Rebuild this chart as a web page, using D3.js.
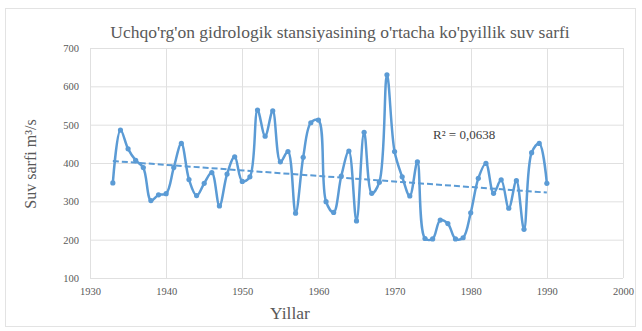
<!DOCTYPE html>
<html>
<head>
<meta charset="utf-8">
<script src="https://cdn.jsdelivr.net/npm/d3@7"></script>
<style>
  html, body { margin: 0; padding: 0; background: #fff; }
  svg { display: block; }
</style>
</head>
<body>
<svg id="chart" width="642" height="331"></svg>
<script>
// Annual mean discharge, m³/s
const years = d3.range(1933, 1991);
const discharge = [
  348, 486, 437, 407, 388, 302, 317, 320, 388, 451,
  357, 315, 347, 375, 288, 371, 416, 352, 364, 538,
  470, 536, 403, 430, 269, 415, 505, 512, 299, 271,
  366, 431, 249, 480, 321, 350, 630, 430, 364, 314,
  403, 203, 202, 251, 242, 202, 205, 270, 360, 399,
  321, 356, 282, 354, 227, 427, 451, 347
];
const xTicks = [1930, 1940, 1950, 1960, 1970, 1980, 1990, 2000];
const yTicks = [100, 200, 300, 400, 500, 600, 700];
const titleText = "Uchqo'rg'on gidrologik stansiyasining o'rtacha ko'pyillik suv sarfi";
const xTitle = "Yillar";
const yTitle = "Suv sarfi m³/s";
const r2Label = "R² = 0,0638";

const data = years.map((y, i) => ({ year: y, value: discharge[i] }));

const svg = d3.select("#chart");
const margin = { left: 90, right: 19, top: 48, bottom: 53 };
const W = 642, H = 331;
const x = d3.scaleLinear().domain([1930, 2000]).range([margin.left, W - margin.right]);
const y = d3.scaleLinear().domain([100, 700]).range([H - margin.bottom, margin.top]);

const font = "'Liberation Serif', 'Times New Roman', serif";
const blue = "#5b9bd5";
const textGrey = "#595959";

// chart frame
svg.append("rect")
  .attr("x", 5.5).attr("y", 8.5).attr("width", 630).attr("height", 318)
  .attr("fill", "#fff").attr("stroke", "#e3e3e3");

// gridlines
svg.append("g").selectAll("line").data(yTicks).join("line")
  .attr("x1", x(1930)).attr("x2", x(2000))
  .attr("y1", d => y(d) + 0.5).attr("y2", d => y(d) + 0.5)
  .attr("stroke", "#e0e0e0");
svg.append("g").selectAll("line").data(xTicks).join("line")
  .attr("y1", y(100)).attr("y2", y(700))
  .attr("x1", d => Math.round(x(d)) + 0.5).attr("x2", d => Math.round(x(d)) + 0.5)
  .attr("stroke", "#e0e0e0");

// axes (labels only)
const xAxis = svg.append("g")
  .attr("transform", `translate(0,${y(100)})`)
  .call(d3.axisBottom(x).tickValues(xTicks).tickFormat(d3.format("d")).tickSize(0).tickPadding(10));
const yAxis = svg.append("g")
  .attr("transform", `translate(${x(1930)},0)`)
  .call(d3.axisLeft(y).tickValues(yTicks).tickSize(0).tickPadding(11));
[xAxis, yAxis].forEach(g => {
  g.select(".domain").remove();
  g.selectAll("text").attr("font-family", font).attr("font-size", 10.5).attr("fill", textGrey);
});

// linear trend (least squares)
const n = data.length;
const mx = d3.mean(data, d => d.year), my = d3.mean(data, d => d.value);
const sxy = d3.sum(data, d => (d.year - mx) * (d.value - my));
const sxx = d3.sum(data, d => (d.year - mx) ** 2);
const slope = sxy / sxx, icpt = my - slope * mx;
const trend = [years[0], years[n - 1]].map(t => ({ year: t, value: icpt + slope * t }));

svg.append("path")
  .datum(trend)
  .attr("fill", "none")
  .attr("stroke", blue)
  .attr("stroke-width", 2)
  .attr("stroke-dasharray", "6,3")
  .attr("d", d3.line().x(d => x(d.year)).y(d => y(d.value)));

// smoothed series
svg.append("path")
  .datum(data)
  .attr("fill", "none")
  .attr("stroke", blue)
  .attr("stroke-width", 2.5)
  .attr("d", d3.line().x(d => x(d.year)).y(d => y(d.value)).curve(d3.curveCatmullRom.alpha(0.5)));

svg.append("g").selectAll("circle").data(data).join("circle")
  .attr("cx", d => x(d.year)).attr("cy", d => y(d.value))
  .attr("r", 2.6).attr("fill", blue);

// R² annotation
svg.append("text")
  .attr("x", 433).attr("y", 139)
  .attr("font-family", font).attr("font-size", 13).attr("fill", "#404040")
  .text(r2Label);

// titles
svg.append("text")
  .attr("x", 340).attr("y", 38)
  .attr("text-anchor", "middle")
  .attr("font-family", font).attr("font-size", 17.5).attr("fill", textGrey)
  .text(titleText);

svg.append("text")
  .attr("x", 290).attr("y", 319)
  .attr("text-anchor", "middle")
  .attr("font-family", font).attr("font-size", 17.5).attr("fill", textGrey)
  .text(xTitle);

svg.append("text")
  .attr("transform", `translate(36,164) rotate(-90)`)
  .attr("text-anchor", "middle")
  .attr("font-family", font).attr("font-size", 16).attr("fill", textGrey)
  .text(yTitle);
</script>
</body>
</html>
